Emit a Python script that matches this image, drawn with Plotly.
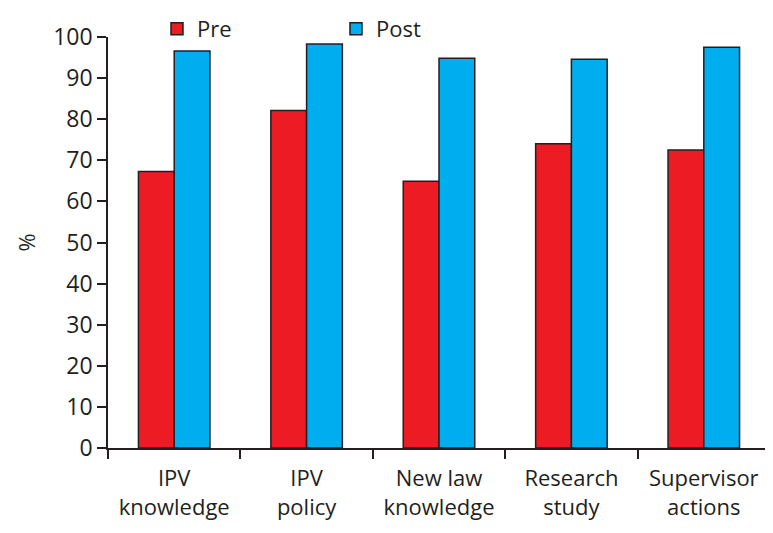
import plotly.graph_objects as go

categories = ["IPV<br>knowledge", "IPV<br>policy", "New law<br>knowledge", "Research<br>study", "Supervisor<br>actions"]
pre_values = [67.3, 82.1, 64.9, 74.0, 72.5]
post_values = [96.6, 98.3, 94.8, 94.6, 97.5]
y_ticks = [0, 10, 20, 30, 40, 50, 60, 70, 80, 90, 100]

FONT = "Open Sans"
RED = "#ED1C24"
BLUE = "#00AEEF"
EDGE = "#231F20"

W, H = 765, 525

fig = go.Figure()
fig.add_trace(go.Bar(name="Pre", x=categories, y=pre_values,
                     marker=dict(color=RED, line=dict(color=EDGE, width=1.5))))
fig.add_trace(go.Bar(name="Post", x=categories, y=post_values,
                     marker=dict(color=BLUE, line=dict(color=EDGE, width=1.5))))

fig.update_layout(
    width=W, height=H,
    margin=dict(l=100, r=3, t=29, b=85, autoexpand=False),
    paper_bgcolor="white", plot_bgcolor="white",
    barmode="group", bargap=0.46, bargroupgap=0,
    font=dict(family=FONT, size=22, color="#231F20"),
    legend=dict(orientation="h", x=0.074, y=1, xref="paper", yref="container",
                xanchor="left", yanchor="top",
                font=dict(size=22), traceorder="normal",
                entrywidth=134, entrywidthmode="pixels", bgcolor="rgba(0,0,0,0)"),
    xaxis=dict(showline=True, linecolor=EDGE, linewidth=1.5,
               ticks="outside", tickson="boundaries", ticklen=9, tickcolor=EDGE, tickwidth=1.5,
               tickfont=dict(size=22), ticklabelstandoff=10),
    yaxis=dict(range=[0, 100], tickvals=y_ticks, showline=True, linecolor=EDGE, linewidth=1.5,
               ticks="outside", ticklen=9, tickcolor=EDGE, tickwidth=1.5, showgrid=False,
               zeroline=False, tickfont=dict(size=23),
               title=dict(text="%", font=dict(size=22), standoff=11)),
)

fig.write_html("out.html")
